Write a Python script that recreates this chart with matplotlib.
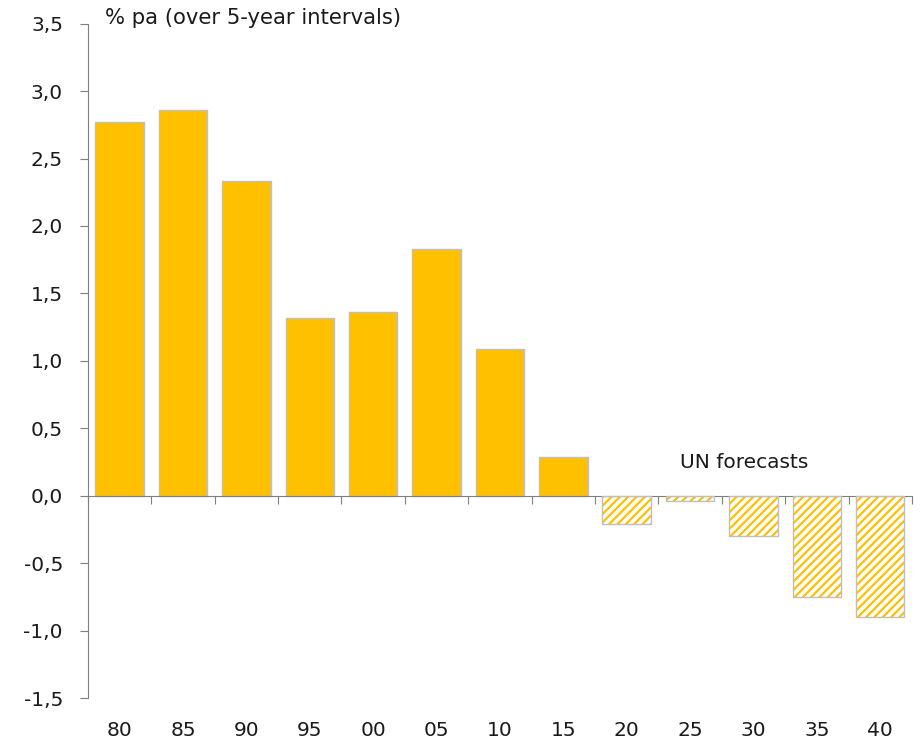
import matplotlib
matplotlib.use("Agg")
import matplotlib.pyplot as plt
import numpy as np
from matplotlib.transforms import blended_transform_factory

plt.rcParams['font.family'] = ['DejaVu Sans']
plt.rcParams['hatch.linewidth'] = 1.6

years = ["80", "85", "90", "95", "00", "05", "10", "15", "20", "25", "30", "35", "40"]
actual = [2.77, 2.86, 2.33, 1.32, 1.36, 1.83, 1.09, 0.29]
forecast = [-0.21, -0.04, -0.30, -0.75, -0.90]
y_ticks = [-1.5, -1.0, -0.5, 0.0, 0.5, 1.0, 1.5, 2.0, 2.5, 3.0, 3.5]

yellow = "#FFC000"
edge = "#BFBFBF"
axis_col = "#7F7F7F"
text_col = "#1A1A1A"
fs = 14.5

fig = plt.figure(figsize=(9.23, 7.44), dpi=100)
ax = fig.add_axes([0.0953, 0.0612, 0.8927, 0.9072])

x = np.arange(len(years))
xa = x[:len(actual)]
xf = x[len(actual):]
w = 0.765

ax.bar(xa, actual, width=w, color=yellow, edgecolor=edge, linewidth=1.0, zorder=2)
ax.bar(xf, forecast, width=w, color="white", edgecolor=yellow, hatch="////",
       linewidth=0, zorder=2)
ax.bar(xf, forecast, width=w, fill=False, edgecolor=edge, linewidth=1.0, zorder=3)

ax.set_xlim(-0.5, len(years) - 0.5)
ax.set_ylim(-1.5, 3.5)

for s in ["top", "right"]:
    ax.spines[s].set_visible(False)
ax.spines["left"].set_color(axis_col)
ax.spines["bottom"].set_color(axis_col)
ax.spines["bottom"].set_position(("data", 0))

ax.set_yticks(y_ticks)
ax.set_yticklabels([f"{v:.1f}".replace(".", ",") for v in y_ticks])
ax.tick_params(axis="y", direction="out", length=6, color=axis_col,
               labelsize=fs, labelcolor=text_col, pad=12)

ax.set_xticks(np.arange(len(years) + 1) - 0.5)
ax.set_xticklabels([])
ax.tick_params(axis="x", direction="out", length=6, color=axis_col)

trans = blended_transform_factory(ax.transData, ax.transAxes)
for xi, lab in zip(x, years):
    ax.text(xi, -0.047, lab, transform=trans, ha="center", va="center",
            fontsize=fs, color=text_col)

ax.text(0.021, 1.008, "% pa (over 5-year intervals)", transform=ax.transAxes,
        ha="left", va="center", fontsize=15.2, color=text_col)
ax.text(9.86, 0.25, "UN forecasts", ha="center", va="center",
        fontsize=fs, color=text_col)

fig.savefig("out.png", dpi=100)
